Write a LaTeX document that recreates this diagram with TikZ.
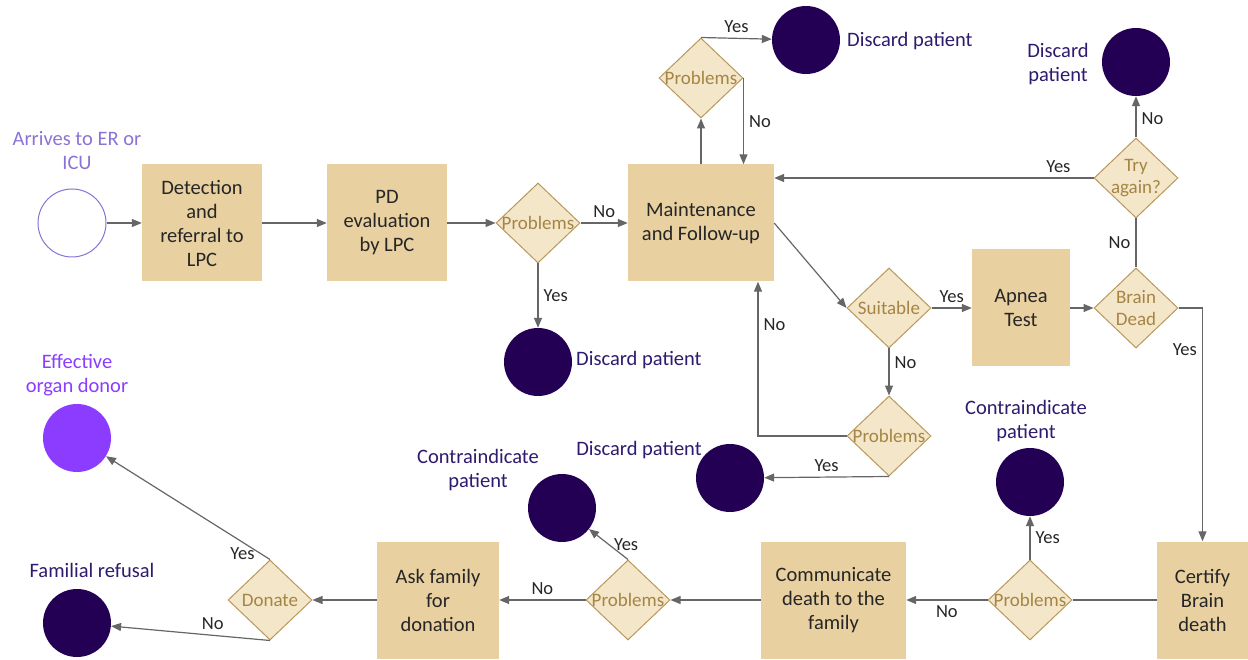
\documentclass[tikz,border=0pt]{standalone}
\usepackage{fontspec}
\setmainfont{Carlito}
\usetikzlibrary{shapes.geometric,arrows.meta}
\definecolor{boxfill}{HTML}{E8D0A0}
\definecolor{diafill}{HTML}{F4E6C8}
\definecolor{diadraw}{HTML}{B8985A}
\definecolor{diatext}{HTML}{A58545}
\definecolor{darkc}{HTML}{240055}
\definecolor{darktext}{HTML}{2E1A6E}
\definecolor{lightpurple}{HTML}{8B73D6}
\definecolor{brightpurple}{HTML}{8B3CFF}
\definecolor{conn}{HTML}{666666}
\tikzset{
  box/.style={fill=boxfill, inner sep=0pt, align=center, font=\fontsize{20.5}{24}\selectfont, text=black!85, minimum height=117pt},
  dia/.style={diamond, draw=diadraw, fill=diafill, line width=1pt, minimum width=84pt, minimum height=80pt, inner sep=0pt},
  dtext/.style={text=diatext, font=\fontsize{19}{22}\selectfont, align=center, inner sep=0pt},
  endc/.style={circle, fill=darkc, minimum size=68pt, inner sep=0pt},
  arr/.style={draw=conn, line width=1.2pt, -{Triangle[length=10pt,width=8pt]}},
  ln/.style={draw=conn, line width=1.2pt},
  lbl/.style={font=\fontsize{18.5}{21}\selectfont, text=black!85, inner sep=5pt},
  ctext/.style={font=\fontsize{20.5}{24}\selectfont, text=darktext, align=center, inner sep=0pt}
}
\begin{document}
\begin{tikzpicture}[x=1pt,y=-1pt]
\useasboundingbox (0,0) rectangle (1248,660);
% nodes
\node[circle, draw=lightpurple, line width=1pt, fill=white, minimum size=68pt, inner sep=0pt] (start) at (72,223) {};
\node[ctext, text=lightpurple] (tstart) at (77,151) {Arrives to ER or\\ICU};
\node[box, minimum width=120pt] (b1) at (202,223) {Detection\\and\\referral to\\LPC};
\node[box, minimum width=120pt] (b2) at (387,223) {PD\\evaluation\\by LPC};
\node[dia, label={[dtext]center:Problems}] (p1) at (538,223) {};
\node[box, minimum width=146pt] (maint) at (701,223) {Maintenance\\and Follow-up};
\node[dia, label={[dtext]center:Problems}] (p2) at (701,78) {};
\node[endc] (d2) at (806,40) {};
\node[ctext, anchor=west] (td2) at (847,41) {Discard patient};
\node[endc] (d1) at (538,362) {};
\node[ctext, anchor=west] (td1) at (576,360) {Discard patient};
\node[dia, label={[dtext]center:Suitable}] (su) at (889,308) {};
\node[box, minimum width=98pt] (apnea) at (1021,308) {Apnea\\Test};
\node[dia, label={[dtext]center:Brain\\Dead}] (bd) at (1136,308) {};
\node[dia, label={[dtext]center:Try\\again?}] (tr) at (1136,178) {};
\node[endc] (d3) at (1136,62) {};
\node[ctext] (td3) at (1058,64) {Discard\\patient};
\node[dia, label={[dtext]center:Problems}] (p3) at (889,436) {};
\node[endc] (d4) at (730,478) {};
\node[ctext] (td4) at (639,450) {Discard patient};
\node[box, minimum width=91pt] (cert) at (1202.5,600) {Certify\\Brain\\death};
\node[dia, label={[dtext]center:Problems}] (p4) at (1030,600) {};
\node[endc] (d5) at (1030,482) {};
\node[ctext] (td5) at (1026,421) {Contraindicate\\patient};
\node[box, minimum width=145pt] (comm) at (833.5,600) {Communicate\\death to the\\family};
\node[dia, label={[dtext]center:Problems}] (p5) at (628,600) {};
\node[endc] (d6) at (562,508) {};
\node[ctext] (td6) at (478,470) {Contraindicate\\patient};
\node[box, minimum width=122pt] (ask) at (438,600) {Ask family\\for\\donation};
\node[dia, label={[dtext]center:Donate}] (don) at (270,600) {};
\node[circle, fill=brightpurple, minimum size=68pt, inner sep=0pt] (eff) at (77,438) {};
\node[ctext, text=brightpurple] (teff) at (77,375) {Effective\\organ donor};
\node[endc] (ref) at (77,623) {};
\node[ctext] (tref) at (92,570) {Familial refusal};
% connectors
\draw[arr] (start) -- (b1);
\draw[arr] (b1) -- (b2);
\draw[arr] (b2) -- (p1.west);
\draw[arr] (p1.east) -- node[lbl, above]{No} (maint);
\draw[arr] (p1.south) -- node[lbl, right]{Yes} (d1);
\draw[arr] (maint.north) -- (p2.south);
\draw[arr] (p2.north) -- node[lbl, above]{Yes} (d2);
\draw[arr] (p2.east) -- node[lbl, right]{No} (p2.east |- maint.north);
\draw[arr] (maint.east) -- (su.west);
\draw[arr] (su.east) -- node[lbl, above]{Yes} (apnea);
\draw[arr] (apnea) -- (bd.west);
\draw[ln] (bd.north) -- node[lbl, left]{No} (tr.south);
\draw[arr] (tr.north) -- node[lbl, right, pos=0.45]{No} (d3);
\draw[arr] (tr.west) -- node[lbl, above, pos=0.11]{Yes} (tr.west -| maint.east);
\draw[arr] (bd.east) -| node[lbl, left, pos=0.59]{Yes} (cert.north);
\draw[arr] (su.south) -- node[lbl, right, pos=0.3]{No} (p3.north);
\draw[arr] (p3.west) -| node[lbl, right, pos=0.86]{No} ([xshift=57pt]maint.south);
\draw[arr] (p3.south) -- node[lbl, above]{Yes} (d4);
\draw[ln] (cert.west) -- (p4.east);
\draw[arr] (p4.north) -- node[lbl, right]{Yes} (d5);
\draw[arr] (p4.west) -- node[lbl, below]{No} (comm);
\draw[arr] (comm) -- (p5.east);
\draw[arr] (p5.north) -- node[lbl, right]{Yes} (d6);
\draw[arr] (p5.west) -- node[lbl, above]{No} (ask);
\draw[arr] (ask) -- (don.east);
\draw[arr] (don.north) -- node[lbl, left, pos=0.06]{Yes} (eff);
\draw[arr] (don.south) -- node[lbl, above, pos=0.36]{No} (ref);
\end{tikzpicture}
\end{document}
